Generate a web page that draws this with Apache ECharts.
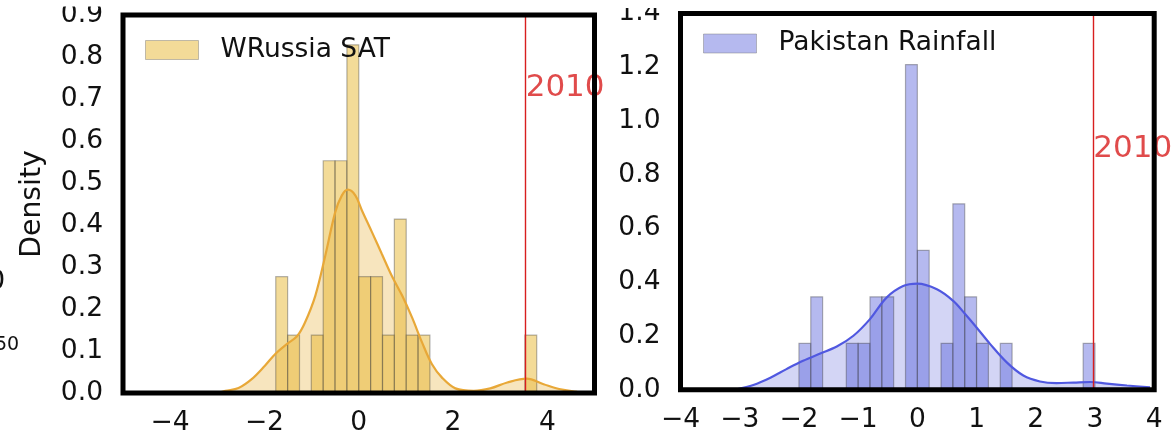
<!DOCTYPE html>
<html>
<head>
<meta charset="utf-8">
<script src="https://cdn.jsdelivr.net/npm/echarts@6/dist/echarts.min.js"></script>
<style>
  html, body { margin: 0; padding: 0; background: #fff; }
  #chart { width: 1176px; height: 437px; }
</style>
</head>
<body>
<div id="chart"></div>
<script>
// ---------- data ----------
const seriesNames = ['WRussia SAT', 'Pakistan Rainfall'];
const eventLabel = '2010';

// West Russia SAT histogram (density), left bin edges
const wrussiaBinStart = [-1.760, -1.508, -1.006, -0.754, -0.503, -0.251, 0.000, 0.252, 0.504, 0.755, 1.007, 1.258, 3.523];
const wrussiaDensity  = [0.277, 0.138, 0.138, 0.553, 0.553, 0.829, 0.277, 0.277, 0.138, 0.414, 0.138, 0.138, 0.138];
const wrussiaBinWidth = 0.2515;
// KDE curve
const wrussiaKdeX = [-2.95, -2.83, -2.55, -2.27, -1.99, -1.77, -1.52, -1.31, -1.14, -0.92, -0.71, -0.50, -0.36, -0.23, -0.07, 0.07, 0.28, 0.49, 0.70, 0.92, 1.13, 1.34, 1.55, 1.77, 2.05, 2.44, 2.79, 3.15, 3.56, 3.92, 4.28, 4.63, 4.75];
const wrussiaKdeY = [0.001, 0.005, 0.012, 0.033, 0.065, 0.093, 0.117, 0.135, 0.168, 0.232, 0.327, 0.430, 0.470, 0.484, 0.470, 0.434, 0.383, 0.331, 0.279, 0.232, 0.180, 0.121, 0.069, 0.036, 0.011, 0.005, 0.011, 0.025, 0.034, 0.021, 0.009, 0.003, 0.001];
const wrussia2010 = 3.54;
const wrussiaLabelY = 0.726;

// Pakistan rainfall histogram (density)
const pakistanBinStart = [-2.0, -1.8, -1.2, -1.0, -0.8, -0.6, -0.2, 0.0, 0.4, 0.6, 0.8, 1.0, 1.4, 2.8];
const pakistanDensity  = [0.173, 0.346, 0.173, 0.173, 0.346, 0.346, 1.21, 0.519, 0.173, 0.692, 0.346, 0.173, 0.173, 0.173];
const pakistanBinWidth = 0.2;
const pakistanKdeX = [-3.05, -2.77, -2.49, -2.21, -1.93, -1.64, -1.36, -1.08, -0.80, -0.52, -0.24, 0.00, 0.33, 0.61, 0.81, 1.00, 1.23, 1.51, 1.79, 2.07, 2.35, 2.64, 2.92, 3.20, 3.54, 3.93];
const pakistanKdeY = [0.002, 0.018, 0.044, 0.077, 0.108, 0.135, 0.161, 0.201, 0.263, 0.343, 0.386, 0.395, 0.374, 0.330, 0.281, 0.232, 0.170, 0.102, 0.053, 0.031, 0.025, 0.027, 0.029, 0.023, 0.016, 0.009];
const pakistan2010 = 2.97;
const pakistanLabelY = 0.8955;

// axis ticks
const leftYMax = 0.9, leftYStep = 0.1;
const rightYMax = 1.4, rightYStep = 0.2;
const leftXMin = -5, leftXMax = 5;
const rightXMin = -4, rightXMax = 4;

// ---------- styling ----------
const FONT = 'DejaVu Sans';
const TXT = '#111';
const RED = '#d81e1e';
const gold = { line: '#e8a838', bar: 'rgba(230,180,40,0.48)', fill: 'rgba(230,170,40,0.30)' };
const blue = { line: '#5058e0', bar: 'rgba(70,80,215,0.40)', fill: 'rgba(70,80,215,0.24)' };
const EDGE = 'rgba(60,60,60,0.38)';

function histData(starts, dens, w) {
  return starts.map((s, i) => [s, s + w, dens[i]]);
}
function kdeData(xs, ys) { return xs.map((x, i) => [x, ys[i]]); }

function histRender(fill) {
  return function (params, api) {
    const p0 = api.coord([api.value(0), 0]);
    const p1 = api.coord([api.value(1), api.value(2)]);
    return {
      type: 'rect',
      shape: { x: p0[0], y: p1[1], width: p1[0] - p0[0], height: p0[1] - p1[1] },
      style: { fill: fill, stroke: EDGE, lineWidth: 1.2 }
    };
  };
}

const minus = v => String(v).replace('-', '\u2212');

function xAxisCfg(gi, min, max, evenOnly) {
  return {
    type: 'value', gridIndex: gi, min: min, max: max, interval: 1,
    axisLine: { show: false }, axisTick: { show: false }, splitLine: { show: false },
    axisLabel: {
      margin: 17, fontSize: 26.5, fontFamily: FONT, color: TXT,
      formatter: v => (evenOnly && Math.abs(Math.round(v)) % 2 === 1) ? '' : minus(Math.round(v))
    }
  };
}
function yAxisCfg(gi, max, step, name) {
  return {
    type: 'value', gridIndex: gi, min: 0, max: max, interval: step,
    axisLine: { show: false }, axisTick: { show: false }, splitLine: { show: false },
    axisLabel: { margin: 20, fontSize: 26.5, fontFamily: FONT, color: TXT,
      padding: [0, 0, 5, 0], formatter: v => v.toFixed(1) },
    name: name, nameLocation: 'middle', nameGap: 76, nameRotate: 90,
    nameTextStyle: { fontSize: 28.3, fontFamily: FONT, color: TXT }
  };
}

function panelSeries(idx, name, col, starts, dens, w, kx, ky, evX, evY) {
  const kde = kdeData(kx, ky);
  return [
    { type: 'line', xAxisIndex: idx, yAxisIndex: idx, data: kde, smooth: 0.35, showSymbol: false,
      lineStyle: { width: 0 }, areaStyle: { color: col.fill, opacity: 1 }, z: 1, silent: true },
    { type: 'custom', name: name, xAxisIndex: idx, yAxisIndex: idx,
      data: histData(starts, dens, w), encode: { x: [0, 1], y: 2 },
      itemStyle: { color: col.bar }, renderItem: histRender(col.bar), z: 2 },
    { type: 'line', xAxisIndex: idx, yAxisIndex: idx, data: kde, smooth: 0.35, showSymbol: false,
      lineStyle: { width: 2.2, color: col.line }, z: 3, silent: true,
      markLine: { symbol: 'none', silent: true, animation: false, label: { show: false },
        lineStyle: { color: RED, width: 1.4, type: 'solid', opacity: 1 },
        emphasis: { disabled: true }, data: [{ xAxis: evX }] } },
    { type: 'scatter', xAxisIndex: idx, yAxisIndex: idx, data: [[evX, evY]], symbolSize: 0, z: 4, silent: true,
      label: { show: true, position: 'right', distance: 0, formatter: eventLabel,
        fontSize: 31, fontFamily: FONT, color: RED } }
  ];
}

function legendCfg(left, top, name, col) {
  return {
    left: left, top: top, padding: 0, selectedMode: false,
    itemWidth: 53, itemHeight: 19,
    data: [{ name: name, icon: 'rect', itemStyle: { color: col.bar, borderColor: 'rgba(120,120,120,0.45)', borderWidth: 1 } }],
    textStyle: { fontSize: 26.5, fontFamily: FONT, color: TXT, lineHeight: 26, padding: [0, 0, 0, 17] }
  };
}

const chart = echarts.init(document.getElementById('chart'), null, { renderer: 'canvas' });
chart.setOption({
  animation: false,
  backgroundColor: '#fff',
  grid: [
    { left: 123, top: 15, width: 471.5, height: 379.5, show: true, borderColor: '#000', borderWidth: 5, backgroundColor: 'transparent', z: 10 },
    { left: 680.5, top: 10.5, width: 473.7, height: 379.3, show: true, borderColor: '#000', borderWidth: 5, backgroundColor: 'transparent', z: 10 }
  ],
  xAxis: [xAxisCfg(0, leftXMin, leftXMax, true), xAxisCfg(1, rightXMin, rightXMax, false)],
  yAxis: [yAxisCfg(0, leftYMax, leftYStep, 'Density'), yAxisCfg(1, rightYMax, rightYStep, '')],
  legend: [legendCfg(145, 36.5, seriesNames[0], gold), legendCfg(703, 30, seriesNames[1], blue)],
  series: [
    ...panelSeries(0, seriesNames[0], gold, wrussiaBinStart, wrussiaDensity, wrussiaBinWidth, wrussiaKdeX, wrussiaKdeY, wrussia2010, wrussiaLabelY),
    ...panelSeries(1, seriesNames[1], blue, pakistanBinStart, pakistanDensity, pakistanBinWidth, pakistanKdeX, pakistanKdeY, pakistan2010, pakistanLabelY)
  ],
  graphic: [
    { type: 'text', left: -12, top: 268, style: { text: '0', fontSize: 27, fontFamily: FONT, fill: TXT } },
    { type: 'text', left: -5, top: 336, style: { text: '50', fontSize: 19, fontFamily: FONT, fill: TXT } },
    // white band at the very top, as in the cropped original
    { type: 'rect', left: 40, top: 0, shape: { width: 80, height: 6.5 }, style: { fill: '#fff' }, z: 100 },
    { type: 'rect', left: 600, top: 0, shape: { width: 76, height: 8 }, style: { fill: '#fff' }, z: 100 }
  ]
});
</script>
</body>
</html>
